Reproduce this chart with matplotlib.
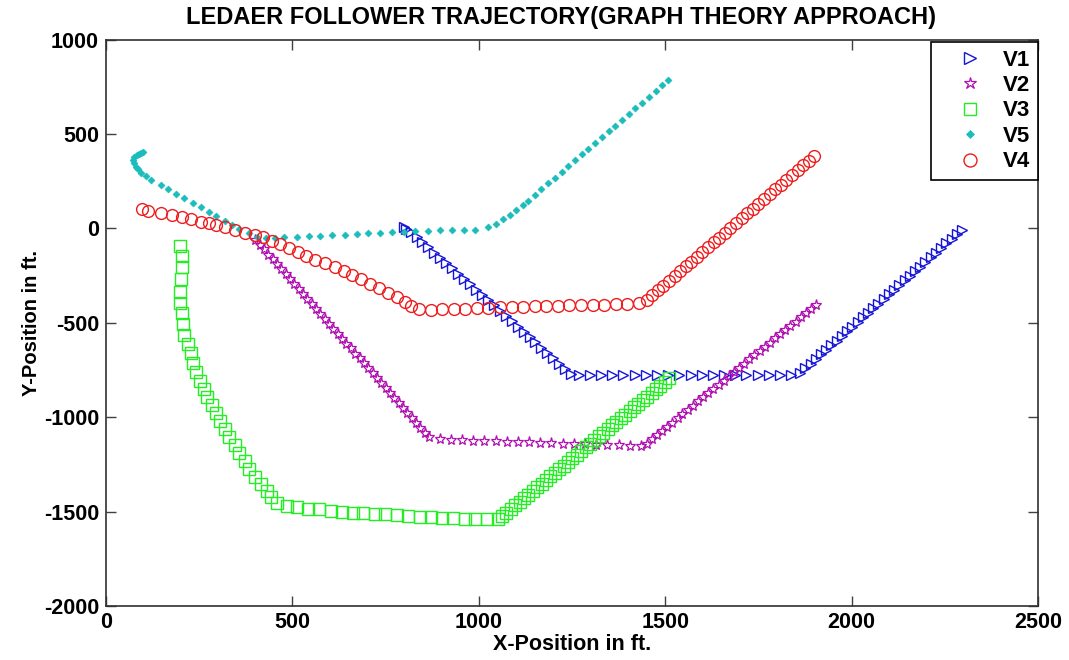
import matplotlib
matplotlib.use("Agg")
import matplotlib.pyplot as plt

plt.rcParams['font.family'] = ['Liberation Sans', 'DejaVu Sans']
plt.rcParams['font.weight'] = 'bold'

# ---------------- data ----------------
V1_x = [800, 806, 818, 833, 848, 864, 880, 896, 912, 928, 944, 960, 976, 992, 1008,
        1024, 1040, 1056, 1072, 1088, 1104, 1120, 1136, 1152, 1168, 1184, 1200, 1216, 1232, 1248,
        1268, 1298, 1328, 1358, 1388, 1418, 1448, 1478, 1508, 1538, 1568, 1598, 1628, 1658,
        1688, 1718, 1748, 1778, 1808, 1838,
        1862, 1876, 1890, 1904, 1918, 1932, 1946, 1960, 1974, 1988, 2002, 2016, 2030, 2044,
        2058, 2072, 2086, 2100, 2114, 2128, 2142, 2156, 2170, 2184, 2198, 2212, 2226, 2240,
        2254, 2268, 2282, 2296]
V1_y = [5, -5, -20, -45, -72, -100, -128, -156, -184, -212, -240, -268, -296, -324, -352,
        -380, -408, -436, -464, -492, -520, -548, -576, -604, -632, -660, -688, -716, -744, -770,
        -778, -778, -779, -778, -778, -779, -778, -778, -779, -778, -778, -779, -778, -778,
        -779, -778, -778, -779, -778, -778,
        -766, -742, -717, -693, -668, -644, -619, -595, -570, -546, -521, -497, -472, -448,
        -423, -399, -374, -350, -325, -301, -276, -252, -227, -203, -178, -154, -129, -105,
        -80, -56, -31, -10]

V2_x = [400, 412, 423, 435, 447, 458, 470, 482, 493, 505, 517, 528, 540, 552, 563, 575, 587,
        598, 610, 622, 633, 645, 657, 668, 680, 692, 703, 715, 727, 738, 750, 762, 773, 785,
        797, 808, 820, 832, 843, 855, 867,
        895, 925, 955, 985, 1015, 1045, 1075, 1105, 1135, 1165, 1195, 1225, 1255, 1285, 1315,
        1345, 1375, 1405, 1435,
        1450, 1464, 1478, 1491, 1505, 1519, 1533, 1546, 1560, 1574, 1588, 1602, 1615, 1629,
        1643, 1657, 1670, 1684, 1698, 1712, 1726, 1739, 1753, 1767, 1781, 1794, 1808, 1822,
        1836, 1850, 1863, 1877, 1891, 1905]
V2_y = [-60, -86, -112, -139, -165, -191, -217, -243, -270, -296, -322, -348, -374, -401,
        -427, -453, -479, -505, -532, -558, -584, -610, -636, -663, -689, -715, -741, -767,
        -794, -820, -846, -872, -898, -925, -951, -977, -1003, -1029, -1056, -1082, -1105,
        -1118, -1120, -1122, -1124, -1126, -1128, -1130, -1132, -1134, -1136, -1138, -1140,
        -1142, -1144, -1146, -1148, -1150, -1152, -1155,
        -1140, -1118, -1095, -1073, -1051, -1029, -1006, -984, -962, -939, -917, -895, -872,
        -850, -828, -806, -783, -761, -739, -716, -694, -672, -650, -627, -605, -583, -560,
        -538, -516, -494, -471, -449, -427, -405]

V3_x = [199, 205, 205, 202, 199, 199, 205, 207, 210, 221, 229, 234, 242, 253, 264, 272, 283,
        294, 307, 318, 331, 345, 356, 372, 383, 399, 415, 431, 442, 458, 485, 512, 542, 571,
        603, 633, 663, 690, 722, 749, 781, 811, 841, 873, 902, 932, 962, 991, 1021, 1051,
        1062, 1074, 1086, 1098, 1110, 1121, 1133, 1145, 1157, 1169, 1180, 1192, 1204, 1216,
        1228, 1239, 1251, 1263, 1275, 1287, 1298, 1310, 1322, 1334, 1346, 1357, 1369, 1381,
        1393, 1405, 1416, 1428, 1440, 1452, 1464, 1475, 1487, 1499, 1510]
V3_y = [-92, -145, -203, -267, -336, -394, -447, -505, -564, -611, -659, -712, -760, -807,
        -850, -892, -935, -977, -1019, -1062, -1104, -1147, -1189, -1231, -1274, -1316, -1353,
        -1390, -1422, -1454, -1470, -1475, -1486, -1486, -1496, -1502, -1507, -1507, -1512,
        -1512, -1518, -1523, -1528, -1528, -1533, -1533, -1539, -1539, -1539, -1539,
        -1525, -1506, -1487, -1467, -1448, -1429, -1410, -1390, -1371, -1352, -1333, -1314,
        -1294, -1275, -1256, -1237, -1217, -1198, -1179, -1160, -1141, -1121, -1102, -1083,
        -1064, -1044, -1025, -1006, -987, -968, -948, -929, -910, -891, -871, -852, -833,
        -814, -795]

V5_x = [100, 94, 88, 82, 76, 73, 75, 80, 87, 94, 108, 121, 148, 167, 189, 210, 234, 256, 275,
        296, 318, 339, 358, 383, 404, 428, 452,
        477, 512, 544, 574, 606, 641, 674, 703, 735, 768, 800, 830, 865, 897, 929, 961, 991,
        1024, 1045, 1064, 1083, 1099, 1118, 1132,
        1150, 1168, 1186, 1204, 1222, 1240, 1258, 1276, 1294, 1312, 1330, 1348, 1366, 1384,
        1402, 1420, 1438, 1456, 1474, 1492, 1508]
V5_y = [403, 401, 396, 388, 377, 364, 345, 327, 312, 295, 276, 258, 231, 210, 184, 163,
        136, 115, 88, 67, 41, 20, -2, -23, -44, -49, -50,
        -44, -44, -39, -39, -34, -34, -28, -23, -23, -18, -18, -12, -12, -7, -7, -7, -7,
        9, 25, 51, 73, 99, 126, 147,
        178, 208, 239, 269, 300, 330, 361, 391, 422, 452, 483, 513, 544, 574, 605, 635, 666,
        696, 727, 757, 788]

V4_x = [97, 113, 148, 178, 205, 229, 256, 275, 296, 318, 345, 372, 399, 420, 445, 466, 490,
        515, 536, 560, 587, 614, 638, 660, 684, 708, 733, 757, 781, 803, 818,
        840, 871, 902, 933, 964, 995, 1026, 1057, 1088, 1119, 1150, 1181, 1212, 1243, 1274,
        1305, 1336, 1367, 1398, 1429,
        1450, 1465, 1480, 1495, 1510, 1525, 1540, 1555, 1570, 1585, 1600, 1615, 1630, 1645,
        1660, 1675, 1690, 1705, 1720, 1735, 1750, 1765, 1780, 1795, 1810, 1825, 1840, 1855,
        1870, 1885, 1900]
V4_y = [104, 94, 83, 73, 62, 51, 35, 30, 20, 9, -7, -23, -34, -44, -65, -81, -102, -124,
        -145, -166, -182, -203, -224, -245, -267, -293, -314, -341, -362, -389, -410,
        -428, -430, -429, -427, -425, -423, -421, -419, -417, -415, -413, -411, -410, -408,
        -406, -405, -404, -402, -401, -398,
        -380, -355, -329, -304, -278, -253, -227, -202, -176, -151, -125, -100, -74, -49, -23,
        2, 28, 53, 79, 104, 130, 155, 181, 206, 232, 257, 283, 308, 334, 359, 385]

x_ticks = [0, 500, 1000, 1500, 2000, 2500]
y_ticks = [-2000, -1500, -1000, -500, 0, 500, 1000]

# ---------------- figure ----------------
W, H = 1069, 660
fig = plt.figure(figsize=(W / 100, H / 100), dpi=100)
ax = fig.add_axes([106 / W, 1 - 606 / H, 932 / W, 566.5 / H])

ax.plot(V1_x, V1_y, linestyle='none', marker='>', markersize=7.5, markerfacecolor='none',
        markeredgecolor='#1515d8', markeredgewidth=1.0, label='V1')
ax.plot(V2_x, V2_y, linestyle='none', marker='*', markersize=8, markerfacecolor='none',
        markeredgecolor='#b010b0', markeredgewidth=0.9, label='V2')
ax.plot(V3_x, V3_y, linestyle='none', marker='s', markersize=8.5, markerfacecolor='none',
        markeredgecolor='#22ee22', markeredgewidth=1.0, label='V3')
ax.plot(V5_x, V5_y, linestyle='none', marker='D', markersize=3.5, markerfacecolor='#1bbcbc',
        markeredgecolor='#1bbcbc', markeredgewidth=0.5, label='V5')
ax.plot(V4_x, V4_y, linestyle='none', marker='o', markersize=8.5, markerfacecolor='none',
        markeredgecolor='#ee1c1c', markeredgewidth=1.0, label='V4')

ax.set_xlim(0, 2500)
ax.set_ylim(-2000, 1000)
ax.set_xticks(x_ticks)
ax.set_yticks(y_ticks)
ax.set_xticklabels([str(v) for v in x_ticks], fontsize=15.5, fontweight='bold')
ax.set_yticklabels([str(v) for v in y_ticks], fontsize=15.5, fontweight='bold')
ax.tick_params(direction='in', length=7, width=1, top=True, right=True, color='#404040')
ax.tick_params(axis='x', pad=4)
ax.tick_params(axis='y', pad=5)
for s in ax.spines.values():
    s.set_linewidth(1.2)
    s.set_color('#303030')

ax.set_title('LEDAER FOLLOWER TRAJECTORY(GRAPH THEORY APPROACH)', fontsize=17,
             fontweight='bold', pad=11, x=0.488)
ax.set_xlabel('X-Position in ft.', fontsize=15.5, fontweight='bold', labelpad=1)
ax.set_ylabel('Y-Position in ft.', fontsize=14.5, fontweight='bold', labelpad=2)

leg = ax.legend(loc='upper right', bbox_to_anchor=(1.0, 0.996), fancybox=False,
                framealpha=1, edgecolor='black', prop={'weight': 'bold', 'size': 16},
                handlelength=2.8, handletextpad=0.1, borderpad=0.35, labelspacing=0.2,
                borderaxespad=0, markerscale=1.1)
leg.get_frame().set_linewidth(1.2)

fig.savefig('out.png', dpi=100)
